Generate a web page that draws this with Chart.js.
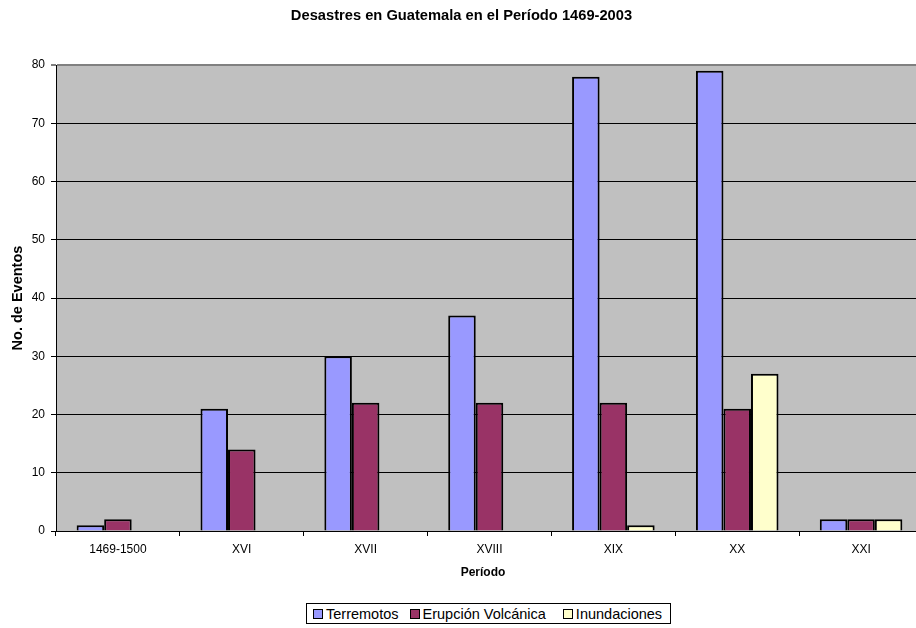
<!DOCTYPE html>
<html>
<head>
<meta charset="utf-8">
<script src="https://cdn.jsdelivr.net/npm/chart.js@4.4.1/dist/chart.umd.min.js"></script>
<style>
  html, body { margin: 0; padding: 0; background: #fff; overflow: hidden; width: 916px; height: 628px; }
  #wrap { position: absolute; left: 0; top: 0; width: 924px; height: 628px; }
  #legend {
    position: absolute; left: 306px; top: 603px; width: 365px; height: 21px;
    border: 1px solid #000; background: #fff;
    display: flex; align-items: center; padding-left: 6px; box-sizing: border-box;
    font-family: "Liberation Sans", Arial, sans-serif; font-size: 14.5px; color: #000;
  }
  #legend .item { display: flex; align-items: center; white-space: nowrap; }
  #legend .sw { width: 8px; height: 8px; border: 1px solid #000; margin-right: 3px; }
</style>
</head>
<body>
<div id="wrap"><canvas id="c" width="924" height="628"></canvas></div>
<div id="legend"></div>
<script>
// Periods and number of recorded events per disaster type
const periods = ['1469-1500', 'XVI', 'XVII', 'XVIII', 'XIX', 'XX', 'XXI'];
const terremotos = [1, 21, 30, 37, 78, 79, 2];
const erupciones = [2, 14, 22, 22, 22, 21, 2];
const inundaciones = [0, 0, 0, 0, 1, 27, 2];
const seriesNames = ['Terremotos', 'Erupción Volcánica', 'Inundaciones'];
const yTicks = [0, 10, 20, 30, 40, 50, 60, 70, 80];

const colors = ['#9999FF', '#993366', '#FFFFCC'];
const FONT = '"Liberation Sans", Arial, sans-serif';

// grey plot area behind the grid
const plotBg = {
  id: 'plotBg',
  beforeDraw(chart) {
    const { ctx, chartArea: a } = chart;
    ctx.save();
    ctx.fillStyle = '#C0C0C0';
    ctx.fillRect(a.left, a.top, a.right - a.left, a.bottom - a.top);
    ctx.restore();
  }
};

// x axis title, centred under the visible part of the plot
const xTitle = {
  id: 'xTitle',
  afterDraw(chart) {
    const { ctx, chartArea: a } = chart;
    ctx.save();
    ctx.fillStyle = '#000';
    ctx.font = 'bold 12px ' + FONT;
    ctx.textAlign = 'center';
    ctx.textBaseline = 'middle';
    ctx.fillText('Período', (a.left + 910) / 2, 573);
    ctx.restore();
  }
};

const seriesData = [terremotos, erupciones, inundaciones];
const datasets = seriesNames.map((name, i) => ({
  label: name,
  data: seriesData[i],
  backgroundColor: colors[i],
  borderColor: '#000',
  borderWidth: 2,
  borderSkipped: 'start',
  categoryPercentage: 3 / 4.5,
  barPercentage: 1
}));

new Chart(document.getElementById('c'), {
  type: 'bar',
  data: { labels: periods, datasets },
  options: {
    responsive: false,
    animation: false,
    layout: { padding: { left: 0, right: 1, top: 0, bottom: 0 } },
    plugins: {
      legend: { display: false },
      tooltip: { enabled: false },
      title: {
        display: true,
        text: 'Desastres en Guatemala en el Período 1469-2003',
        color: '#000',
        font: { family: FONT, size: 14.7, weight: 'bold', lineHeight: 1.2 },
        padding: { top: 7.2, bottom: 40.2 }
      }
    },
    scales: {
      x: {
        grid: {
          display: true, drawOnChartArea: false, drawTicks: true,
          tickLength: 5, tickColor: '#000', offset: true
        },
        border: { display: true, color: '#000', width: 1 },
        ticks: { color: '#000', font: { family: FONT, size: 12 }, padding: 6, maxRotation: 0 },
        title: { display: false },
        afterFit(scale) { scale.height = 97; }
      },
      y: {
        min: 0, max: 80,
        afterBuildTicks(scale) { scale.ticks = yTicks.map(v => ({ value: v })); },
        grid: {
          color: ctx => (ctx.tick && ctx.tick.value === 80 ? '#808080' : '#000'),
          lineWidth: ctx => (ctx.tick && ctx.tick.value === 80 ? 2 : 1),
          tickLength: 5, tickColor: '#000', tickWidth: 1
        },
        border: { display: true, color: '#000', width: 1 },
        ticks: { color: '#000', font: { family: FONT, size: 12 }, padding: 6 },
        title: {
          display: true, text: 'No. de Eventos', color: '#000',
          font: { family: FONT, size: 14.5, weight: 'bold', lineHeight: 1.2 },
          padding: { top: 9, bottom: 0 }
        },
        afterFit(scale) { scale.width = 56; }
      }
    }
  },
  plugins: [plotBg, xTitle]
});

// legend row below the chart
const legend = document.getElementById('legend');
const gaps = [11, 17, 0];
seriesNames.forEach((name, i) => {
  const item = document.createElement('div');
  item.className = 'item';
  item.style.marginRight = gaps[i] + 'px';
  const sw = document.createElement('span');
  sw.className = 'sw';
  sw.style.background = colors[i];
  const txt = document.createElement('span');
  txt.textContent = name;
  item.appendChild(sw);
  item.appendChild(txt);
  legend.appendChild(item);
});
</script>
</body>
</html>
